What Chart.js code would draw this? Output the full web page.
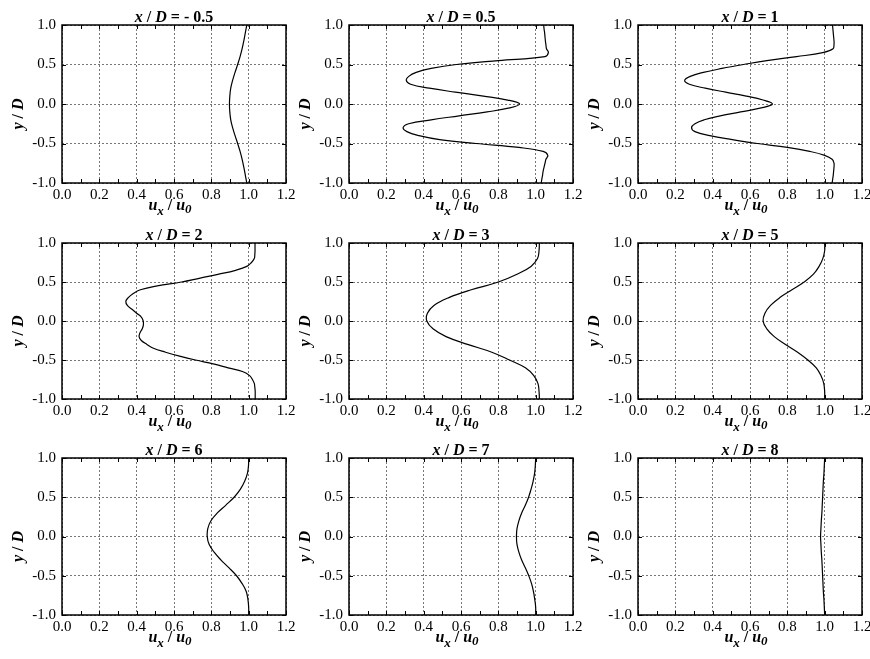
<!DOCTYPE html>
<html>
<head>
<meta charset="utf-8">
<script src="https://cdn.jsdelivr.net/npm/chart.js@4.4.0/dist/chart.umd.min.js"></script>
<style>
  body { margin: 0; background: #fff; }
  #wrap { position: relative; width: 870px; height: 659px; overflow: hidden; }
  #wrap canvas { position: absolute; }
</style>
</head>
<body>
<div id="wrap"></div>
<script>
// Perfis de velocidade u_x/u_0 ao longo de y/D para várias posições x/D

const titulos = ['- 0.5', '0.5', '1', '2', '3', '5', '6', '7', '8'];
const ticksX = [0, 0.2, 0.4, 0.6, 0.8, 1.0, 1.2];
const ticksY = [-1.0, -0.5, 0.0, 0.5, 1.0];

// posições y/D (passo 0.05 e passo 0.1)
const yFino = [-1.0, -0.95, -0.9, -0.85, -0.8, -0.75, -0.7, -0.65, -0.6, -0.55, -0.5,
  -0.45, -0.4, -0.35, -0.3, -0.25, -0.2, -0.15, -0.1, -0.05, 0.0,
  0.05, 0.1, 0.15, 0.2, 0.25, 0.3, 0.35, 0.4, 0.45, 0.5,
  0.55, 0.6, 0.65, 0.7, 0.75, 0.8, 0.85, 0.9, 0.95, 1.0];
const yGrosso = [-1.0, -0.9, -0.8, -0.7, -0.6, -0.5, -0.4, -0.3, -0.2, -0.1, 0.0,
  0.1, 0.2, 0.3, 0.4, 0.5, 0.6, 0.7, 0.8, 0.9, 1.0];

const uMenos05 = [0.99, 0.982, 0.974, 0.965, 0.954, 0.941, 0.927, 0.914, 0.904, 0.899, 0.897,
  0.899, 0.904, 0.914, 0.927, 0.941, 0.954, 0.965, 0.974, 0.982, 0.99];
const u05 = [1.03, 1.033, 1.037, 1.04, 1.045, 1.05, 1.055, 1.065, 1.04, 0.91, 0.68,
  0.486, 0.375, 0.31, 0.29, 0.32, 0.44, 0.59, 0.74, 0.86, 0.914,
  0.85, 0.72, 0.57, 0.43, 0.33, 0.307, 0.32, 0.36, 0.44, 0.575,
  0.8, 1.05, 1.068, 1.058, 1.055, 1.052, 1.05, 1.048, 1.045, 1.043];
const u1 = [1.04, 1.043, 1.046, 1.048, 1.05, 1.05, 1.04, 1.0, 0.92, 0.8, 0.64,
  0.505, 0.385, 0.305, 0.287, 0.305, 0.355, 0.44, 0.55, 0.66, 0.72,
  0.67, 0.58, 0.47, 0.36, 0.275, 0.25, 0.28, 0.35, 0.45, 0.565,
  0.69, 0.85, 0.99, 1.045, 1.05, 1.05, 1.048, 1.046, 1.044, 1.042];
const u2 = [1.035, 1.035, 1.035, 1.033, 1.03, 1.02, 1.005, 0.97, 0.89, 0.81, 0.715,
  0.63, 0.555, 0.49, 0.455, 0.425, 0.413, 0.418, 0.43, 0.436, 0.435,
  0.425, 0.4, 0.375, 0.35, 0.342, 0.355, 0.38, 0.42, 0.51, 0.64,
  0.74, 0.84, 0.93, 0.99, 1.015, 1.03, 1.033, 1.034, 1.034, 1.034];
const u3 = [1.02, 1.018, 1.012, 0.99, 0.945, 0.86, 0.765, 0.635, 0.52, 0.45, 0.417,
  0.42, 0.455, 0.535, 0.655, 0.8, 0.9, 0.975, 1.01, 1.018, 1.02];
const u5 = [1.0, 1.0, 0.995, 0.98, 0.955, 0.91, 0.855, 0.79, 0.73, 0.69, 0.67,
  0.68, 0.71, 0.76, 0.825, 0.89, 0.94, 0.97, 0.99, 1.0, 1.0];
const u6 = [1.0, 1.0, 0.996, 0.987, 0.965, 0.935, 0.895, 0.852, 0.815, 0.788, 0.778,
  0.781, 0.798, 0.832, 0.878, 0.922, 0.955, 0.978, 0.993, 0.999, 1.0];
const u7 = [1.0, 1.0, 0.995, 0.988, 0.978, 0.963, 0.945, 0.925, 0.91, 0.9, 0.897,
  0.9, 0.91, 0.925, 0.945, 0.962, 0.975, 0.986, 0.994, 0.998, 1.0];
const u8 = [1.0, 0.998, 0.996, 0.993, 0.991, 0.989, 0.987, 0.985, 0.982, 0.98, 0.978,
  0.98, 0.982, 0.985, 0.987, 0.989, 0.991, 0.993, 0.996, 0.998, 1.0];

const series = [
  [uMenos05, yGrosso], [u05, yFino], [u1, yFino],
  [u2, yFino], [u3, yGrosso], [u5, yGrosso],
  [u6, yGrosso], [u7, yGrosso], [u8, yGrosso]
];

// layout dos painéis (área de plotagem)
const colLeft = [62, 349, 638];
const plotW = 224;
const rowTop = [25, 243, 458];
const rowH = [158, 156, 157];

const SERIF = '"Liberation Serif", "Times New Roman", serif';
const fB = 'bold 16px ' + SERIF;
const fBI = 'italic bold 16px ' + SERIF;
const fSub = 'italic bold 13px ' + SERIF;

function drawRich(ctx, parts, cx, cy) {
  let w = 0;
  parts.forEach(p => { ctx.font = p.f; p.w = ctx.measureText(p.t).width; w += p.w; });
  let x = cx - w / 2;
  parts.forEach(p => {
    ctx.font = p.f;
    ctx.fillText(p.t, x, cy + (p.dy || 0));
    x += p.w;
  });
}

const decor = {
  id: 'decor',
  afterDraw(chart, args, opts) {
    const { ctx, chartArea: a, scales } = chart;
    ctx.save();
    // ticks internos
    ctx.strokeStyle = '#000';
    ctx.lineWidth = 1;
    ctx.beginPath();
    for (let i = 0; i <= 12; i++) {
      const px = Math.round(scales.x.getPixelForValue(i / 10)) + 0.5;
      ctx.moveTo(px, a.top); ctx.lineTo(px, a.top + 4);
      ctx.moveTo(px, a.bottom); ctx.lineTo(px, a.bottom - 4);
    }
    for (let j = 0; j <= 4; j++) {
      const py = Math.round(scales.y.getPixelForValue(-1 + j * 0.5)) + 0.5;
      ctx.moveTo(a.left, py); ctx.lineTo(a.left + 4, py);
      ctx.moveTo(a.right, py); ctx.lineTo(a.right - 4, py);
    }
    ctx.stroke();
    ctx.lineWidth = 1.5;
    ctx.strokeRect(a.left, a.top, a.width, a.height);

    ctx.fillStyle = '#000';
    ctx.textAlign = 'left';
    ctx.textBaseline = 'alphabetic';
    const cx = (a.left + a.right) / 2;
    drawRich(ctx, [
      { t: 'x', f: fBI }, { t: ' / ', f: fB }, { t: 'D', f: fBI }, { t: ' = ' + opts.label, f: fB }
    ], cx, a.top - 3);
    drawRich(ctx, [
      { t: 'u', f: fBI }, { t: 'x', f: fSub, dy: 5 }, { t: ' / ', f: fB },
      { t: 'u', f: fBI }, { t: '0', f: fSub, dy: 3 }
    ], cx - 4, a.bottom + 27);
    ctx.translate(a.left - 39, (a.top + a.bottom) / 2 + 10);
    ctx.rotate(-Math.PI / 2);
    drawRich(ctx, [{ t: 'y', f: fBI }, { t: ' / ', f: fB }, { t: 'D', f: fBI }], 0, 0);
    ctx.restore();
  }
};

function initCharts() {
  const wrap = document.getElementById('wrap');
  series.forEach(([u, y], k) => {
    const col = k % 3, row = Math.floor(k / 3);
    const cv = document.createElement('canvas');
    const W = 62 + plotW + 20, H = 25 + rowH[row] + 45;
    cv.width = W; cv.height = H;
    cv.style.left = (colLeft[col] - 62) + 'px';
    cv.style.top = (rowTop[row] - 25) + 'px';
    cv.style.width = W + 'px'; cv.style.height = H + 'px';
    wrap.appendChild(cv);

    new Chart(cv.getContext('2d'), {
      type: 'scatter',
      data: {
        datasets: [{
          data: u.map((v, i) => ({ x: v, y: y[i] })),
          showLine: true,
          borderColor: '#000',
          borderWidth: 1.2,
          pointRadius: 0,
          tension: 0.4,
          fill: false
        }]
      },
      options: {
        responsive: false,
        animation: false,
        devicePixelRatio: 1,
        layout: { padding: { top: 25, right: 20, left: 0, bottom: 0 } },
        plugins: {
          legend: { display: false },
          tooltip: { enabled: false },
          decor: { label: titulos[k] }
        },
        scales: {
          x: {
            type: 'linear', min: 0, max: 1.2,
            afterBuildTicks: s => { s.ticks = ticksX.map(v => ({ value: v })); },
            afterFit: s => { s.height = 45; },
            grid: { color: '#777', lineWidth: 1, drawTicks: false },
            border: { display: false, dash: [2, 2] },
            ticks: {
              color: '#000', padding: 3, maxRotation: 0,
              font: { family: SERIF, size: 15 },
              callback: v => v.toFixed(1)
            }
          },
          y: {
            type: 'linear', min: -1, max: 1,
            afterBuildTicks: s => { s.ticks = ticksY.map(v => ({ value: v })); },
            afterFit: s => { s.width = 62; },
            grid: { color: '#777', lineWidth: 1, drawTicks: false },
            border: { display: false, dash: [2, 2] },
            ticks: {
              color: '#000', padding: 6,
              font: { family: SERIF, size: 15 },
              callback: v => v.toFixed(1)
            }
          }
        }
      },
      plugins: [decor]
    });
  });
}

document.addEventListener('DOMContentLoaded', initCharts);
</script>
</body>
</html>
